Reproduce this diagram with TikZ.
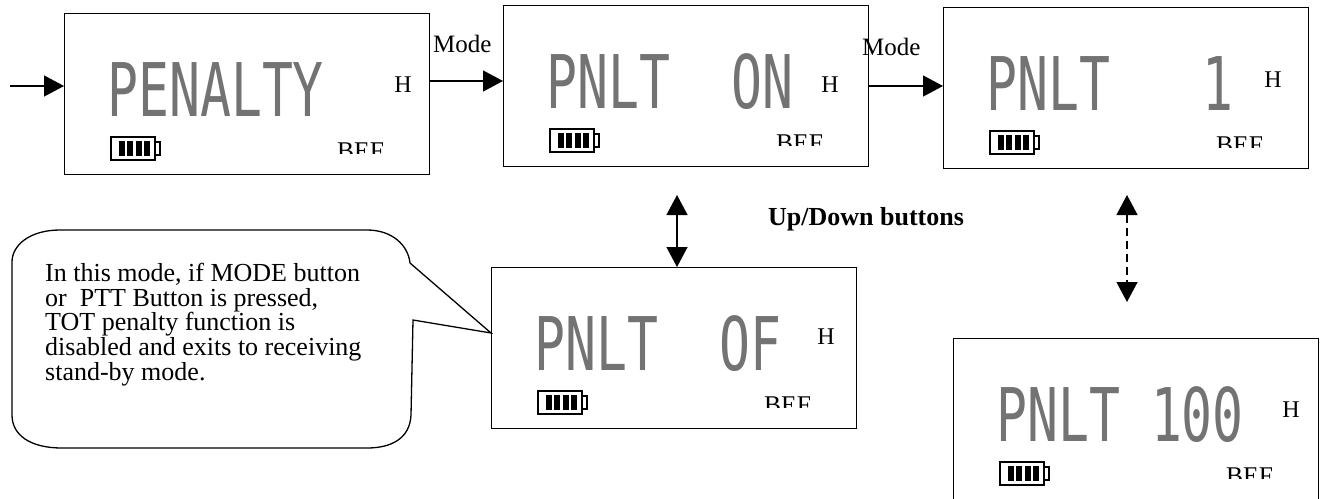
\documentclass[tikz,border=0pt]{standalone}
\usepackage{fontspec}
\setmainfont{Liberation Serif}
\newfontfamily\lcdfont[FakeStretch=0.695]{DejaVu Sans Mono}
\usetikzlibrary{arrows.meta,calc}
\tikzset{
  lcdbox/.style={draw, line width=1.3pt, minimum width=365pt, minimum height=161pt, inner sep=0pt, anchor=north west},
  segtext/.style={anchor=base west, inner sep=0pt, text=black!55, font=\lcdfont\fontsize{74}{74}\selectfont},
  hlabel/.style={inner sep=0pt, font=\fontsize{24}{24}\selectfont},
  beflabel/.style={anchor=base west, inner sep=0pt, font=\fontsize{25.5}{25.5}\selectfont},
  battline/.style={line width=1.2pt},
  arr/.style={line width=1.3pt, -{Triangle[length=20pt,width=21pt]}},
  darr/.style={line width=1.3pt, {Triangle[length=20pt,width=21pt]}-{Triangle[length=20pt,width=21pt]}},
  modelabel/.style={anchor=base west, inner sep=0pt, font=\fontsize{25}{25}\selectfont},
}
% #1 name, #2 x, #3 y, #4 segment text, #5 H rel x, #6 H rel y
\newcommand\lcdpanel[6]{%
  \node[lcdbox] (#1) at (#2,#3) {};
  \node[segtext] (#1seg) at ({#2+43},{#3+103}) {#4};
  \node[hlabel] (#1H) at ({#2+#5},{#3+#6}) {H};
  \draw[battline] ({#2+47},{#3+124}) rectangle ({#2+91},{#3+147});
  \draw[battline] ({#2+91},{#3+129}) -- ({#2+96},{#3+129}) -- ({#2+96},{#3+142}) -- ({#2+91},{#3+142});
  \foreach \bb in {8,16.3,24.7,33}{
    \fill ({#2+47+\bb},{#3+128}) rectangle ({#2+47+\bb+6},{#3+143});
  }
  \begin{scope}
    \clip ({#2+200},{#3+115}) rectangle ({#2+360},{#3+140});
    \node[beflabel] (#1bef) at ({#2+273},{#3+146}) {BEF};
  \end{scope}
}
\begin{document}
\begin{tikzpicture}[x=1pt,y=-1pt]
\useasboundingbox (0,0) rectangle (1321,498);

\lcdpanel{b1}{64}{13}{PENALTY}{339}{72}
\lcdpanel{b2}{503}{5}{PNLT\ \ ON}{327}{80}
\lcdpanel{b3}{943}{7}{PNLT\ \ \ 1}{330}{73}
\lcdpanel{b4}{491}{267}{PNLT\ \ OF}{335}{70}
\lcdpanel{b5}{953}{338}{PNLT\ 100}{338}{72}

% entry arrow
\coordinate (in) at (10,86);
\draw[arr] (in) -- (b1.west |- in);

% mode arrows
\coordinate (m1) at (0,81);
\draw[arr] (b1.east |- m1) -- (b2.west |- m1);
\node[modelabel] (mode1) at (433,52) {Mode};
\coordinate (m2) at (0,86);
\draw[arr] (b2.east |- m2) -- (b3.west |- m2);
\node[modelabel] (mode2) at (862,55) {Mode};

% up/down arrows
\coordinate (u1) at (677,195);
\draw[darr] (u1) -- (u1 |- b4.north);
\node[anchor=base west, inner sep=0pt, font=\bfseries\fontsize{26}{26}\selectfont] (ud) at (768,225) {Up/Down buttons};
\coordinate (d1) at (1127,195);
\coordinate (d2) at (1127,302);
\draw[darr, dash pattern=on 8pt off 5pt] (d1) -- (d2);

% callout
\coordinate (tip) at ($(b4.north west)+(0,66)$);
\draw[line width=1.3pt] (60,230) -- (367,230) .. controls (392,230) and (408,245) .. (410,263)
  -- (tip) -- (413,320) -- (411,415) .. controls (410,438) and (392,448) .. (367,448)
  -- (62,448) .. controls (30,448) and (12,435) .. (12,415) -- (12,262)
  .. controls (12,245) and (30,230) .. (60,230) -- cycle;
\node[anchor=north west, align=left, inner sep=0pt, font=\fontsize{26}{24.7}\selectfont] (note) at (45,263)
  {In this mode, if MODE button\\or\ \ PTT Button is pressed,\\TOT penalty function is\\disabled and exits to receiving\\stand-by mode.};
\end{tikzpicture}
\end{document}
